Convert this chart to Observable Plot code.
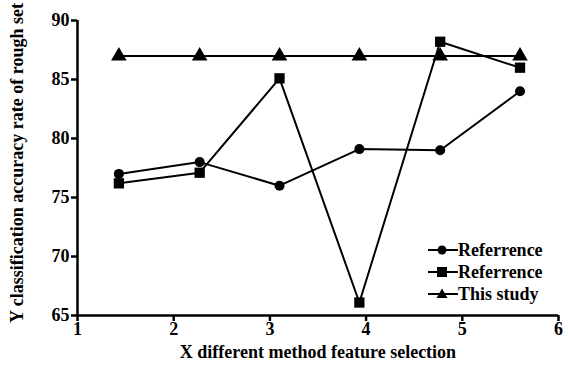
<!DOCTYPE html>
<html>
<head>
<meta charset="utf-8">
<script src="https://cdn.jsdelivr.net/npm/d3@7"></script>
<script src="https://cdn.jsdelivr.net/npm/@observablehq/plot@0.6"></script>
<style>
  html, body { margin: 0; padding: 0; background: #fff; }
  #wrap { position: relative; width: 568px; height: 373px; font-family: "Liberation Serif", "Times New Roman", serif; font-weight: bold; }
  #chart svg, #chart svg text { font-family: "Liberation Serif", "Times New Roman", serif !important; font-weight: bold; }
  #legend { position: absolute; left: 427px; top: 239px; font-size: 18px; line-height: 22px; color: #000; }
  #legend .row { display: flex; align-items: center; height: 22px; }
  #legend svg { display: block; }
</style>
</head>
<body>
<div id="wrap"><div id="chart"></div><div id="legend"></div></div>
<script>
const xPositions = [1.43, 2.27, 3.10, 3.93, 4.77, 5.60];
const seriesNames = ["Referrence", "Referrence", "This study"];
const seriesSymbols = ["circle", "square", "triangle"];
const ref1 = [77, 78, 76, 79.1, 79, 84];
const ref2 = [76.2, 77.1, 85.1, 66.1, 88.2, 86];
const thisStudy = [87, 87, 87, 87, 87, 87];
const yTicks = [65, 70, 75, 80, 85, 90];
const xTicks = [1, 2, 3, 4, 5, 6];
const xLabel = "X different method feature selection";
const yLabel = "Y classification accuracy rate of rough set";

const seriesValues = [ref1, ref2, thisStudy];
const rows = [];
seriesValues.forEach((vals, si) => {
  vals.forEach((v, i) => rows.push({series: si, x: xPositions[i], y: v, symbol: seriesSymbols[si]}));
});

const font = '"Liberation Serif", "Times New Roman", serif';

const plot = Plot.plot({
  width: 568,
  height: 373,
  marginLeft: 77,
  marginRight: 10,
  marginTop: 20,
  marginBottom: 58,
  style: {fontFamily: font, fontSize: "18px", fontWeight: "bold", color: "#000", background: "#fff"},
  x: {domain: [1, 6]},
  y: {domain: [65, 90]},
  marks: [
    Plot.axisX({ticks: xTicks, tickSize: 6, tickPadding: 1, tickFormat: d3.format("d"), label: null, strokeWidth: 2.5}),
    Plot.axisY({ticks: yTicks, tickSize: 6, tickPadding: 2, tickFormat: d3.format("d"), label: null, strokeWidth: 2.5}),
    Plot.ruleX([1], {y1: 65, y2: 90, strokeWidth: 2.5}),
    Plot.ruleY([65], {x1: 1, x2: 6, strokeWidth: 2.5}),
    Plot.line(rows, {x: "x", y: "y", z: "series", stroke: "#000", strokeWidth: 2}),
    Plot.dot(rows.filter(d => d.symbol === "circle"), {x: "x", y: "y", symbol: "circle", fill: "#000", r: 5}),
    Plot.dot(rows.filter(d => d.symbol === "square"), {x: "x", y: "y", symbol: "square", fill: "#000", r: 5.8}),
    Plot.dot(rows.filter(d => d.symbol === "triangle"), {x: "x", y: "y", symbol: "triangle", fill: "#000", r: 5.8}),
    Plot.text([xLabel], {frameAnchor: "bottom", dy: 42, fontSize: 18, fontWeight: "bold", fill: "#000"}),
    Plot.text([yLabel], {frameAnchor: "left", dx: -60, dy: -5, rotate: -90, textAnchor: "middle", fontSize: 18, fontWeight: "bold", fill: "#000"})
  ]
});
document.getElementById("chart").appendChild(plot);

const legend = document.getElementById("legend");
seriesNames.forEach((name, i) => {
  const row = document.createElement("div");
  row.className = "row";
  const sym = seriesSymbols[i];
  let glyph;
  if (sym === "circle") glyph = '<circle cx="15" cy="11" r="4.5" fill="#000"/>';
  else if (sym === "square") glyph = '<rect x="10" y="6" width="10" height="10" fill="#000"/>';
  else glyph = '<path d="M15,5.5 L20.5,15 L9.5,15 Z" fill="#000"/>';
  row.innerHTML = '<svg width="31" height="22"><line x1="1" x2="31" y1="11" y2="11" stroke="#000" stroke-width="2"/>' + glyph + '</svg><span>' + name + '</span>';
  legend.appendChild(row);
});
</script>
</body>
</html>
